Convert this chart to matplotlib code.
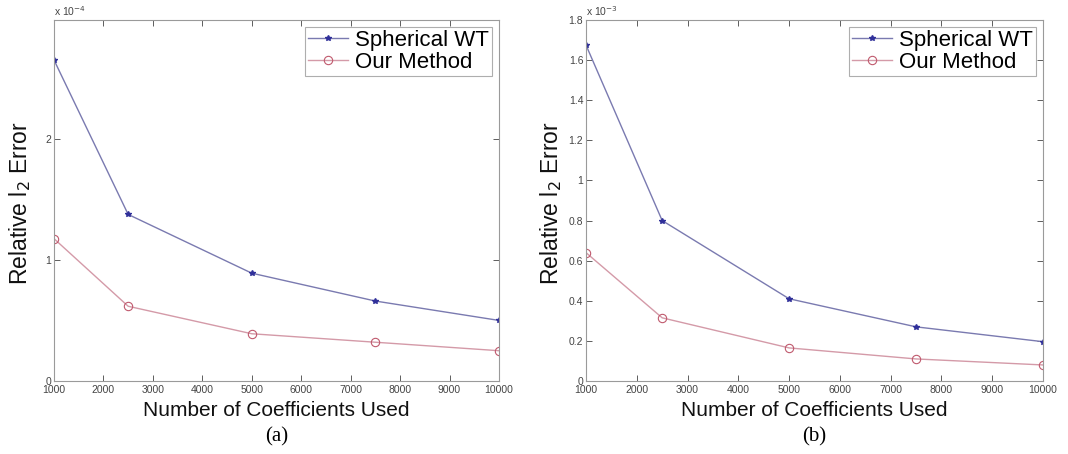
import matplotlib
matplotlib.use("Agg")
import matplotlib.pyplot as plt

plt.rcParams["font.family"] = ["Liberation Sans", "DejaVu Sans"]

coeffs = [1000, 2500, 5000, 7500, 10000]

# panel (a), units of 1e-4
wt_a = [2.65, 1.375, 0.89, 0.66, 0.50]
ours_a = [1.175, 0.617, 0.39, 0.32, 0.25]

# panel (b), units of 1e-3
wt_b = [1.675, 0.80, 0.41, 0.27, 0.196]
ours_b = [0.64, 0.315, 0.165, 0.11, 0.08]

x_ticks = [1000, 2000, 3000, 4000, 5000, 6000, 7000, 8000, 9000, 10000]

WT_LINE = "#7a7ab0"
WT_MARK = "#30309a"
OUR_LINE = "#d49aa8"
OUR_MARK = "#c05a6e"
SPINE = "#9a9a9a"

W, H = 1068, 454


def draw_panel(ax, wt, ours, ylim, yticks, ylabels, exponent, caption, ylab_x):
    ax.plot(coeffs, wt, "-", color=WT_LINE, lw=1.0, marker="*", ms=4,
            mec=WT_MARK, mfc=WT_MARK, label="Spherical WT")
    ax.plot(coeffs, ours, "-", color=OUR_LINE, lw=1.0, marker="o", ms=6,
            mec=OUR_MARK, mfc="none", mew=0.8, label="Our Method")
    ax.set_xlim(1000, 10000)
    ax.set_ylim(*ylim)
    ax.set_xticks(x_ticks)
    ax.set_xticklabels([str(t) for t in x_ticks])
    ax.set_yticks(yticks)
    ax.set_yticklabels(ylabels)
    ax.tick_params(direction="in", labelsize=7.5, colors="#444444", length=4,
                   top=True, right=True, width=0.6)
    ax.tick_params(axis="x", pad=3)
    ax.tick_params(axis="y", pad=2)
    for s in ax.spines.values():
        s.set_color(SPINE)
        s.set_linewidth(0.8)
    ax.text(0.0, 1.005, r"x 10$^{%d}$" % exponent, transform=ax.transAxes,
            fontsize=7.5, color="#444444", ha="left", va="bottom")
    leg = ax.legend(loc="upper right", fontsize=16, frameon=True, fancybox=False,
                    handlelength=1.8, handletextpad=0.3, borderpad=0.15,
                    labelspacing=0.05, borderaxespad=0.3)
    leg.get_frame().set_edgecolor(SPINE)
    leg.get_frame().set_linewidth(0.8)

    # axis labels and caption placed in figure pixels
    pos = ax.get_position()
    cx = (pos.x0 + pos.x1) / 2
    fig.text(cx, 1 - 410 / H, "Number of Coefficients Used", fontsize=15,
             ha="center", va="center", color="#111111")
    fig.text(ylab_x / W, 1 - 203 / H, "Relative l$_2$ Error", fontsize=16.5,
             rotation=90, ha="center", va="center", color="#111111")
    fig.text(cx, 1 - 437 / H, caption, fontsize=15, ha="center", va="center",
             family=["Liberation Serif", "DejaVu Serif"])


fig = plt.figure(figsize=(W / 100, H / 100), dpi=100)
ax_a = fig.add_axes([54 / W, 1 - 381 / H, 445 / W, 361 / H])
ax_b = fig.add_axes([586 / W, 1 - 381 / H, 457 / W, 361 / H])

draw_panel(ax_a, wt_a, ours_a, (0, 2.98), [0, 1, 2], ["0", "1", "2"], -4, "(a)", 20)
draw_panel(ax_b, wt_b, ours_b, (0, 1.8),
           [0, 0.2, 0.4, 0.6, 0.8, 1.0, 1.2, 1.4, 1.6, 1.8],
           ["0", "0.2", "0.4", "0.6", "0.8", "1", "1.2", "1.4", "1.6", "1.8"],
           -3, "(b)", 551)

fig.savefig("out.png", dpi=100)
